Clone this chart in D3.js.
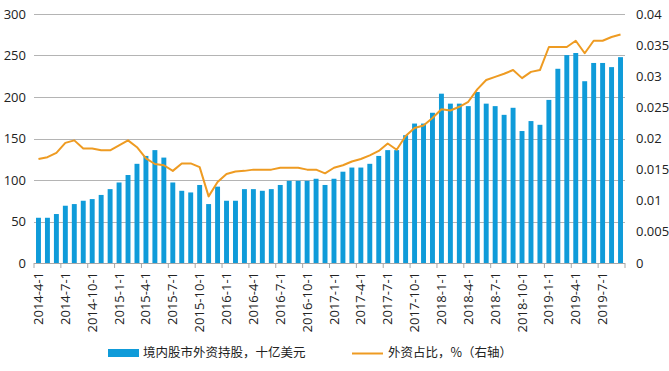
<!DOCTYPE html>
<html>
<head>
<meta charset="utf-8">
<script src="https://cdn.jsdelivr.net/npm/d3@7"></script>
<style>
  body { margin: 0; background: #fff; }
  svg { display: block; font-family: "Open Sans", "Noto Sans CJK SC", sans-serif; }
</style>
</head>
<body>
<div id="chart"></div>
<script>
// monthly categories, 2014-4 .. 2019-9
var months = [
  "2014-4-1","2014-5-1","2014-6-1","2014-7-1","2014-8-1","2014-9-1","2014-10-1","2014-11-1","2014-12-1",
  "2015-1-1","2015-2-1","2015-3-1","2015-4-1","2015-5-1","2015-6-1","2015-7-1","2015-8-1","2015-9-1",
  "2015-10-1","2015-11-1","2015-12-1","2016-1-1","2016-2-1","2016-3-1","2016-4-1","2016-5-1","2016-6-1",
  "2016-7-1","2016-8-1","2016-9-1","2016-10-1","2016-11-1","2016-12-1","2017-1-1","2017-2-1","2017-3-1",
  "2017-4-1","2017-5-1","2017-6-1","2017-7-1","2017-8-1","2017-9-1","2017-10-1","2017-11-1","2017-12-1",
  "2018-1-1","2018-2-1","2018-3-1","2018-4-1","2018-5-1","2018-6-1","2018-7-1","2018-8-1","2018-9-1",
  "2018-10-1","2018-11-1","2018-12-1","2019-1-1","2019-2-1","2019-3-1","2019-4-1","2019-5-1","2019-6-1",
  "2019-7-1","2019-8-1","2019-9-1"
];

// 境内股市外资持股，十亿美元
var holdings = [
  54.5, 54.5, 59, 69, 71, 75, 77, 82, 89,
  97, 106, 119.5, 129, 136, 127, 97, 87, 85,
  94, 71, 92, 75, 75, 89, 89, 87, 89,
  94, 99, 99, 99, 101.5, 94, 101.5, 110, 115,
  115, 119.5, 129, 136, 136, 154, 168, 168, 181,
  204, 192, 192, 189, 206, 192, 189, 178.5, 187,
  159, 171, 166.5, 196.5, 234, 250.5, 253, 219, 241,
  241, 236, 248
];

// 外资占比，%（右轴）
var share = [
  0.0167, 0.0170, 0.0177, 0.0193, 0.0197, 0.0184, 0.0184, 0.0181, 0.0181,
  0.0189, 0.0197, 0.0186, 0.0168, 0.0159, 0.0157, 0.0148, 0.0160, 0.0160,
  0.0154, 0.0107, 0.0130, 0.0143, 0.0147, 0.0148, 0.0150, 0.0150, 0.0150,
  0.0153, 0.0153, 0.0153, 0.0150, 0.0150, 0.0144, 0.0153, 0.0157, 0.0163,
  0.0167, 0.0173, 0.0180, 0.0192, 0.0182, 0.0204, 0.0217, 0.0221, 0.0233,
  0.0247, 0.0245, 0.0251, 0.0259, 0.0279, 0.0294, 0.0299, 0.0304, 0.0310,
  0.0297, 0.0307, 0.0310, 0.0347, 0.0347, 0.0347, 0.0357, 0.0337, 0.0357,
  0.0357, 0.0363, 0.0367
];

var leftTicks = [0, 50, 100, 150, 200, 250, 300];
var rightTicks = [0, 0.005, 0.01, 0.015, 0.02, 0.025, 0.03, 0.035, 0.04];
var barName = "境内股市外资持股，十亿美元";
var lineName = "外资占比，%（右轴）";

var width = 669, height = 371;
var plotL = 34, plotR = 625, plotT = 14, plotB = 263;
var barColor = "#0f9bd9", lineColor = "#ee9b22";

var svg = d3.select("#chart").append("svg")
  .attr("width", width).attr("height", height);

var x = d3.scaleBand().domain(months).range([plotL, plotR]).paddingInner(0.45).paddingOuter(0.225);
var y = d3.scaleLinear().domain([0, 300]).range([plotB, plotT]);
var y2 = d3.scaleLinear().domain([0, 0.04]).range([plotB, plotT]);

// gridlines
svg.append("g").selectAll("line")
  .data(leftTicks.slice(1)).enter().append("line")
  .attr("x1", plotL).attr("x2", plotR)
  .attr("y1", function (d) { return Math.round(y(d)) + 0.5; })
  .attr("y2", function (d) { return Math.round(y(d)) + 0.5; })
  .attr("stroke", "#b4b4b4").attr("stroke-width", 1);

// left axis labels
svg.append("g").selectAll("text")
  .data(leftTicks).enter().append("text")
  .attr("x", 26).attr("y", function (d) { return y(d); })
  .attr("dy", "0.35em").attr("text-anchor", "end")
  .style("font-size", "13px").attr("fill", "#222")
  .text(function (d) { return d; });

// right axis labels
svg.append("g").selectAll("text")
  .data(rightTicks).enter().append("text")
  .attr("x", 636).attr("y", function (d) { return y2(d); })
  .attr("dy", "0.35em").attr("text-anchor", "start")
  .style("font-size", "13px").attr("fill", "#222")
  .text(function (d) { return d; });

// bars
svg.append("g").selectAll("rect")
  .data(holdings).enter().append("rect")
  .attr("x", function (d, i) { return x(months[i]); })
  .attr("y", function (d) { return y(d); })
  .attr("width", x.bandwidth())
  .attr("height", function (d) { return plotB - y(d); })
  .attr("fill", barColor);

// x axis line + ticks every 3 categories
var step = x.step();
svg.append("line")
  .attr("x1", plotL).attr("x2", plotR).attr("y1", plotB + 0.5).attr("y2", plotB + 0.5)
  .attr("stroke", "#a8a8a8");
var tickIdx = d3.range(0, months.length + 1, 3);
svg.append("g").selectAll("line")
  .data(tickIdx).enter().append("line")
  .attr("x1", function (i) { return plotL + i * step; })
  .attr("x2", function (i) { return plotL + i * step; })
  .attr("y1", plotB).attr("y2", plotB + 5)
  .attr("stroke", "#a8a8a8");

// x labels, every 3rd month
svg.append("g").selectAll("text")
  .data(months.filter(function (d, i) { return i % 3 === 0; })).enter().append("text")
  .attr("transform", function (d) {
    return "translate(" + (x(d) + x.bandwidth() / 2) + "," + 272 + ") rotate(-90)";
  })
  .attr("dy", "0.35em").attr("text-anchor", "end")
  .style("font-size", "13px").attr("fill", "#222")
  .text(function (d) { return d; });

// share line
var line = d3.line()
  .x(function (d, i) { return x(months[i]) + x.bandwidth() / 2; })
  .y(function (d) { return y2(d); });
svg.append("path")
  .datum(share)
  .attr("d", line)
  .attr("fill", "none")
  .attr("stroke", lineColor)
  .attr("stroke-width", 2)
  .attr("stroke-linejoin", "round");

// legend
var lg = svg.append("g").style("font-family", "'Noto Sans CJK SC', sans-serif").style("font-size", "12.5px");
lg.append("rect").attr("x", 108).attr("y", 349).attr("width", 31).attr("height", 8).attr("fill", barColor);
lg.append("text").attr("x", 143).attr("y", 353).attr("dy", "0.35em").attr("fill", "#222").text(barName);
lg.append("line").attr("x1", 352).attr("x2", 383).attr("y1", 353.5).attr("y2", 353.5)
  .attr("stroke", lineColor).attr("stroke-width", 2);
lg.append("text").attr("x", 388).attr("y", 353).attr("dy", "0.35em").attr("fill", "#222").text(lineName);
</script>
</body>
</html>
